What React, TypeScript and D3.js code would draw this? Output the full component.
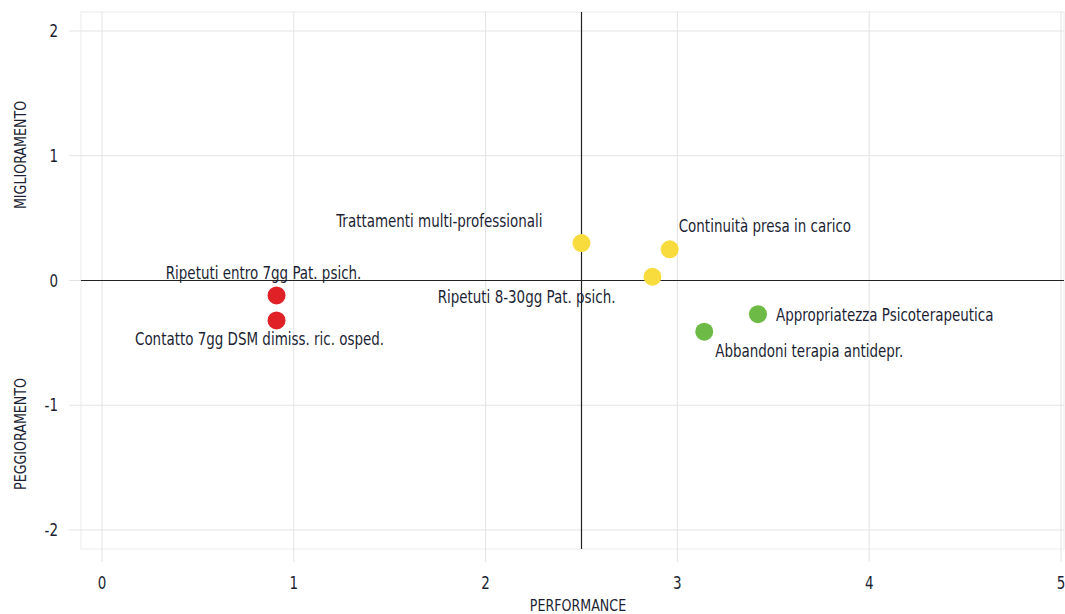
import React from "react";
import * as d3 from "d3";

const xTicks = [0, 1, 2, 3, 4, 5];
const yTicks = [-2, -1, 0, 1, 2];
const labels = [
  "Ripetuti entro 7gg Pat. psich.",
  "Contatto 7gg DSM dimiss. ric. osped.",
  "Trattamenti multi-professionali",
  "Continuità presa in carico",
  "Ripetuti 8-30gg Pat. psich.",
  "Appropriatezza Psicoterapeutica",
  "Abbandoni terapia antidepr.",
];
const performance = [0.91, 0.91, 2.5, 2.96, 2.87, 3.42, 3.14];
const improvement = [-0.12, -0.32, 0.3, 0.25, 0.03, -0.27, -0.41];
const groups = ["red", "red", "yellow", "yellow", "yellow", "green", "green"];

const colorMap: Record<string, string> = {
  red: "#e02227",
  yellow: "#f8dc3d",
  green: "#6dbb46",
};

// label placement relative to the point (px)
const labelPlacement: { dx: number; dy: number; anchor: string }[] = [
  { dx: -13, dy: -16, anchor: "middle" },
  { dx: -17, dy: 25, anchor: "middle" },
  { dx: -39, dy: -16, anchor: "end" },
  { dx: 9, dy: -17, anchor: "start" },
  { dx: -37, dy: 26, anchor: "end" },
  { dx: 18, dy: 7, anchor: "start" },
  { dx: 11, dy: 25, anchor: "start" },
];

const W = 1065;
const H = 614;
const FONT = "'Liberation Sans Narrow', 'DejaVu Sans Condensed', 'Roboto Condensed', sans-serif";
const TEXT = "#1c1f33";
const SX = 0.88;

function CText(props: {
  x: number;
  y: number;
  size: number;
  anchor?: string;
  rotate?: number;
  children: React.ReactNode;
}) {
  const { x, y, size, anchor = "start", rotate = 0, children } = props;
  return (
    <text
      transform={`translate(${x},${y}) rotate(${rotate}) scale(${SX},1)`}
      textAnchor={anchor as any}
      fontSize={size}
      fill={TEXT}
    >
      {children}
    </text>
  );
}

export default function App() {
  const x = d3.scaleLinear().domain([0, 5]).range([102, 1061]);
  const y = d3.scaleLinear().domain([-2, 2]).range([530, 31]);
  const box = { left: 81, right: 1064, top: 12, bottom: 549 };

  return (
    <svg
      width={W}
      height={H}
      style={{ position: "absolute", left: 0, top: 0, background: "#fff" }}
      fontFamily={FONT}
    >
      <rect
        x={box.left}
        y={box.top}
        width={box.right - box.left}
        height={box.bottom - box.top}
        fill="none"
        stroke="#ececec"
        strokeWidth={1}
      />
      {xTicks.map((t) => (
        <line
          key={"gx" + t}
          x1={x(t)}
          x2={x(t)}
          y1={box.top}
          y2={562}
          stroke="#e3e3e3"
          strokeWidth={1}
        />
      ))}
      {yTicks.map((t) => (
        <line
          key={"gy" + t}
          x1={69}
          x2={box.right}
          y1={y(t)}
          y2={y(t)}
          stroke="#e3e3e3"
          strokeWidth={1}
        />
      ))}
      {/* quadrant axes */}
      <line x1={box.left} x2={box.right} y1={y(0)} y2={y(0)} stroke="#222" strokeWidth={1.2} />
      <line x1={x(2.5)} x2={x(2.5)} y1={box.top} y2={box.bottom} stroke="#222" strokeWidth={1.2} />

      {yTicks.map((t) => (
        <CText key={"ty" + t} x={58} y={y(t) + 6} size={17} anchor="end">
          {t}
        </CText>
      ))}
      {xTicks.map((t) => (
        <CText key={"tx" + t} x={x(t)} y={589} size={17} anchor="middle">
          {t}
        </CText>
      ))}
      <CText x={578} y={611} size={16} anchor="middle">
        PERFORMANCE
      </CText>
      <CText x={26} y={155} size={16} anchor="middle" rotate={-90}>
        MIGLIORAMENTO
      </CText>
      <CText x={26} y={434} size={16} anchor="middle" rotate={-90}>
        PEGGIORAMENTO
      </CText>

      {performance.map((p, i) => (
        <circle
          key={"c" + i}
          cx={x(p)}
          cy={y(improvement[i])}
          r={9}
          fill={colorMap[groups[i]]}
        />
      ))}
      {labels.map((l, i) => (
        <CText
          key={"l" + i}
          x={x(performance[i]) + labelPlacement[i].dx}
          y={y(improvement[i]) + labelPlacement[i].dy}
          anchor={labelPlacement[i].anchor}
          size={17}
        >
          {l}
        </CText>
      ))}
    </svg>
  );
}
